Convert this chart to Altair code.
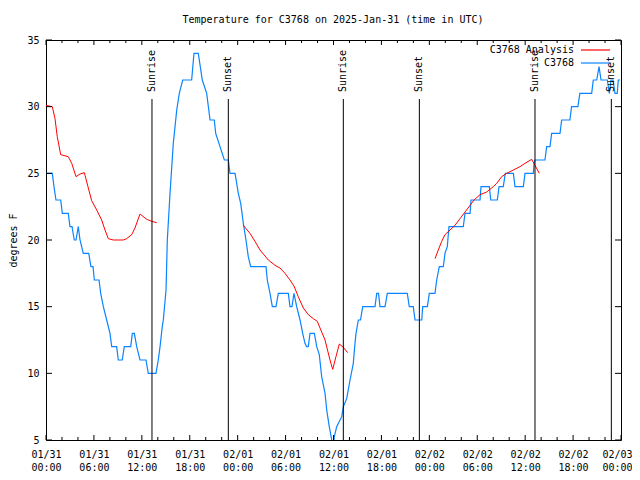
import altair as alt
import pandas as pd

FONT = "DejaVu Sans Mono"
RED = "#ff0000"
BLUE = "#0a84ff"

TITLE = "Temperature for C3768 on 2025-Jan-31 (time in UTC)"

# Observed temperature (C3768): hours since 2025-01-31 00:00 UTC, degrees F
obs_hours = [0, 0.79, 1.0, 1.25, 1.84, 2.04, 2.79, 3.0, 3.26, 3.54, 3.76, 4.04, 4.26, 4.67, 5.35,
             5.63, 5.89, 6.05, 6.64, 6.85, 7.18, 7.6, 8.01, 8.23, 8.85, 9.05, 9.55, 9.8, 10.61,
             10.81, 11.06, 11.36, 11.77, 12.52, 12.81, 13.77, 14.06, 14.28, 14.56, 14.69, 15.03,
             15.19, 15.53, 15.94, 16.37, 16.69, 17.12, 18.24, 18.53, 19.07, 19.57, 20.12, 20.54,
             21.07, 21.25, 21.79, 22.33, 22.83, 23.04, 23.67, 23.88, 24.08, 24.38, 24.71, 25.04,
             25.33, 25.63, 27.55, 27.71, 28.05, 28.34, 28.8, 29.09, 30.34, 30.55, 30.8, 31.05,
             31.39, 31.81, 32.14, 32.43, 32.64, 32.84, 33.06, 33.6, 33.9, 34.22, 34.52, 34.94,
             35.15, 35.47, 35.78, 35.88, 36.0, 36.1, 36.4, 37.03, 37.23, 37.65, 38.07, 38.48,
             38.69, 38.82, 39.11, 39.38, 39.66, 41.2, 41.41, 41.64, 41.82, 42.45, 42.74, 45.24,
             45.49, 45.99, 46.21, 47.05, 47.17, 47.75, 48.0, 48.71, 48.92, 49.25, 49.75, 49.96,
             50.25, 50.46, 52.25, 52.47, 53.1, 53.22, 54.35, 54.47, 55.51, 55.69, 56.51, 56.73,
             57.26, 57.51, 58.52, 58.73, 59.77, 59.98, 61.02, 61.11, 61.23, 62.48, 62.69, 63.11,
             63.32, 64.36, 64.57, 65.6, 65.81, 66.6, 66.85, 68.33, 68.53, 68.96, 69.25, 69.5,
             70.29, 70.54, 70.75, 71.0, 71.25, 71.53, 71.66, 71.88]
obs_temps = [25, 25, 24, 23, 23, 22, 22, 21, 21, 20, 20, 21, 20, 19, 19,
             18, 18, 17, 17, 16, 15, 14, 13, 12, 12, 11, 11, 12, 12,
             13, 13, 12, 11, 11, 10, 10, 11, 12, 13.5, 14, 16.25,
             20, 23.5, 27.25, 29.75, 31, 32, 32, 34, 34, 32, 31, 29,
             29, 28, 27, 26, 26, 25, 25, 24.25, 23.5, 22.75, 21.25, 20,
             18.75, 18, 18, 17, 16, 15, 15, 16, 16, 15, 15, 16,
             15, 14, 13, 12.25, 12, 12, 13, 13, 12, 11.4, 9.75, 8.5,
             7.25, 6, 5, 4.5, 4.5, 5.25, 6, 6.75, 7.5, 8.1, 9.5, 10.75,
             12.25, 13, 14, 14, 15, 15, 16, 16, 15, 15, 16, 16,
             15, 15, 14, 14, 15, 15, 16, 16, 17, 18, 18, 19,
             19.5, 21, 21, 22, 22, 23, 23, 24, 24, 23, 23, 24,
             24, 25, 25, 24, 24, 25, 25, 25.75, 26, 26, 27, 27,
             28, 28, 29, 29, 30, 30, 31, 31, 32, 32, 33, 32,
             32, 31, 32, 32, 31, 31, 32, 32]

# Analysis (C3768 Analysis), three segments
ana1_hours = [0, 0.79, 1.13, 1.41, 1.84, 2.79, 3.22, 3.76, 4.26, 4.8, 5.3, 5.72, 6.35, 6.97,
              7.39, 7.8, 8.43, 9.68, 10.1, 10.73, 11.14, 11.77, 12.61, 13.24, 13.86]
ana1_temps = [30.1, 30.0, 29.1, 27.75, 26.4, 26.25, 25.75, 24.75, 24.95, 25.05, 23.9, 22.95,
              22.25, 21.5, 20.75, 20.1, 20.0, 20.0, 20.1, 20.4, 20.9, 21.95, 21.55, 21.4, 21.3]
ana2_hours = [24.7, 25.54, 26.17, 26.8, 27.84, 28.68, 29.3, 29.93, 30.55, 31.05, 31.59, 32.22,
              32.85, 33.47, 33.97, 34.52, 34.94, 35.56, 35.9, 36.31, 36.73, 37.23, 37.78]
ana2_temps = [21.1, 20.5, 19.9, 19.25, 18.5, 18.1, 17.9, 17.5, 17.0, 16.55, 15.75, 14.9, 14.4,
              14.1, 13.9, 13.1, 12.5, 11.0, 10.3, 11.25, 12.2, 11.95, 11.55]
ana3_hours = [48.71, 49.12, 49.55, 49.96, 50.59, 51.21, 51.84, 52.47, 53.1, 53.6, 54.35, 55.18,
              56.01, 56.44, 57.06, 57.69, 58.52, 59.35, 59.98, 60.82, 61.23, 61.77]
ana3_temps = [18.6, 19.25, 19.9, 20.4, 20.75, 21.1, 21.6, 22.1, 22.6, 23.0, 23.4, 23.6, 24.0,
              24.25, 24.75, 25.0, 25.25, 25.5, 25.75, 26.05, 25.6, 25.0]

sun_hours = [13.27, 22.83, 37.23, 46.75, 61.23, 70.79]
sun_labels = ["Sunrise", "Sunset", "Sunrise", "Sunset", "Sunrise", "Sunset"]

x_major = list(range(0, 73, 6))
x_minor = [h for h in range(0, 73, 2) if h % 6 != 0]
y_ticks = [5, 10, 15, 20, 25, 30, 35]

df_obs = pd.DataFrame({"h": obs_hours, "t": obs_temps})
df_ana = pd.concat([
    pd.DataFrame({"h": ana1_hours, "t": ana1_temps, "seg": "a"}),
    pd.DataFrame({"h": ana2_hours, "t": ana2_temps, "seg": "b"}),
    pd.DataFrame({"h": ana3_hours, "t": ana3_temps, "seg": "c"}),
])
df_sun = pd.DataFrame({"h": sun_hours, "label": sun_labels})
df_xmaj = pd.DataFrame({"h": x_major})
df_xmin = pd.DataFrame({"h": x_minor})
df_yt = pd.DataFrame({"t": y_ticks})

xs = alt.Scale(domain=[0, 72], nice=False, zero=False)
ys = alt.Scale(domain=[5, 35], nice=False, zero=False)

label_expr = ("[utcFormat(utc(2025,0,31)+datum.value*3600000,'%m/%d'),"
              " utcFormat(utc(2025,0,31)+datum.value*3600000,'%H:%M')]")
xaxis = alt.Axis(values=x_major, labelExpr=label_expr, ticks=False, domain=False, grid=False,
                 title=None, labelFont=FONT, labelFontSize=10, labelColor="black",
                 labelPadding=9, labelLineHeight=13, labelBaseline="top",
                 labelOffset={"condition": {"test": "datum.value >= 72", "value": -4}, "value": 0},
                 labelOverlap=False, labelFlush=False, labelBound=False)
yaxis = alt.Axis(values=y_ticks, ticks=False, domain=False, grid=False,
                 title="degrees F", titleX=-33, titleY=200, titleAngle=270,
                 titleAlign="center", titleBaseline="middle", titleFont=FONT,
                 titleFontSize=10, titleFontWeight="normal", titleColor="black",
                 labelFont=FONT, labelFontSize=10, labelColor="black", labelPadding=7)

X = alt.X("h:Q", scale=xs, axis=xaxis)
Y = alt.Y("t:Q", scale=ys, axis=yaxis)

obs = alt.Chart(df_obs).mark_line(color=BLUE, strokeWidth=1.2, clip=True).encode(x=X, y=Y)
ana = alt.Chart(df_ana).mark_line(color=RED, strokeWidth=1, clip=True).encode(
    x=X, y=Y, detail="seg:N")

sun_rule = alt.Chart(df_sun).mark_rule(color="black", strokeWidth=1).encode(
    x=X, y=alt.value(59), y2=alt.value(400))
sun_text = alt.Chart(df_sun).mark_text(angle=270, align="left", baseline="middle",
                                       font=FONT, fontSize=10, color="black").encode(
    x=X, y=alt.value(52), text="label:N")

xt_bot_maj = alt.Chart(df_xmaj).mark_rule(color="black").encode(
    x=X, y=alt.value(400), y2=alt.value(395))
xt_top_maj = alt.Chart(df_xmaj).mark_rule(color="black").encode(
    x=X, y=alt.value(0), y2=alt.value(5))
xt_bot_min = alt.Chart(df_xmin).mark_rule(color="black").encode(
    x=X, y=alt.value(400), y2=alt.value(397))
xt_top_min = alt.Chart(df_xmin).mark_rule(color="black").encode(
    x=X, y=alt.value(0), y2=alt.value(3))
yt_left = alt.Chart(df_yt).mark_rule(color="black").encode(
    y=Y, x=alt.value(0), x2=alt.value(6))
yt_right = alt.Chart(df_yt).mark_rule(color="black").encode(
    y=Y, x=alt.value(569), x2=alt.value(575))

leg_names = ["C3768 Analysis", "C3768"]
leg_colors = [RED, BLUE]
leg_layers = []
for i, (name, col) in enumerate(zip(leg_names, leg_colors)):
    d = pd.DataFrame({"label": [name]})
    yy = 10 + 13 * i
    leg_layers.append(alt.Chart(d).mark_text(align="right", baseline="middle", font=FONT,
                                             fontSize=10, color="black").encode(
        x=alt.value(528), y=alt.value(yy), text="label:N"))
    leg_layers.append(alt.Chart(d).mark_rule(color=col, strokeWidth=1.2).encode(
        x=alt.value(535), x2=alt.value(564), y=alt.value(yy)))

title_layer = alt.Chart(pd.DataFrame({"label": [TITLE]})).mark_text(
    align="center", baseline="middle", font=FONT, fontSize=10, color="black").encode(
    x=alt.value(287), y=alt.value(-20), text="label:N")

chart = alt.layer(
    obs, ana, sun_rule, sun_text,
    xt_bot_maj, xt_top_maj, xt_bot_min, xt_top_min, yt_left, yt_right,
    *leg_layers, title_layer,
).properties(
    width=575, height=400,
    autosize="none",
    padding={"left": 38, "top": 32, "right": 11, "bottom": 38},
    background="white",
).configure_view(stroke="black", strokeWidth=1)

chart.save("out.html", embed_options={"renderer": "svg", "actions": False})
